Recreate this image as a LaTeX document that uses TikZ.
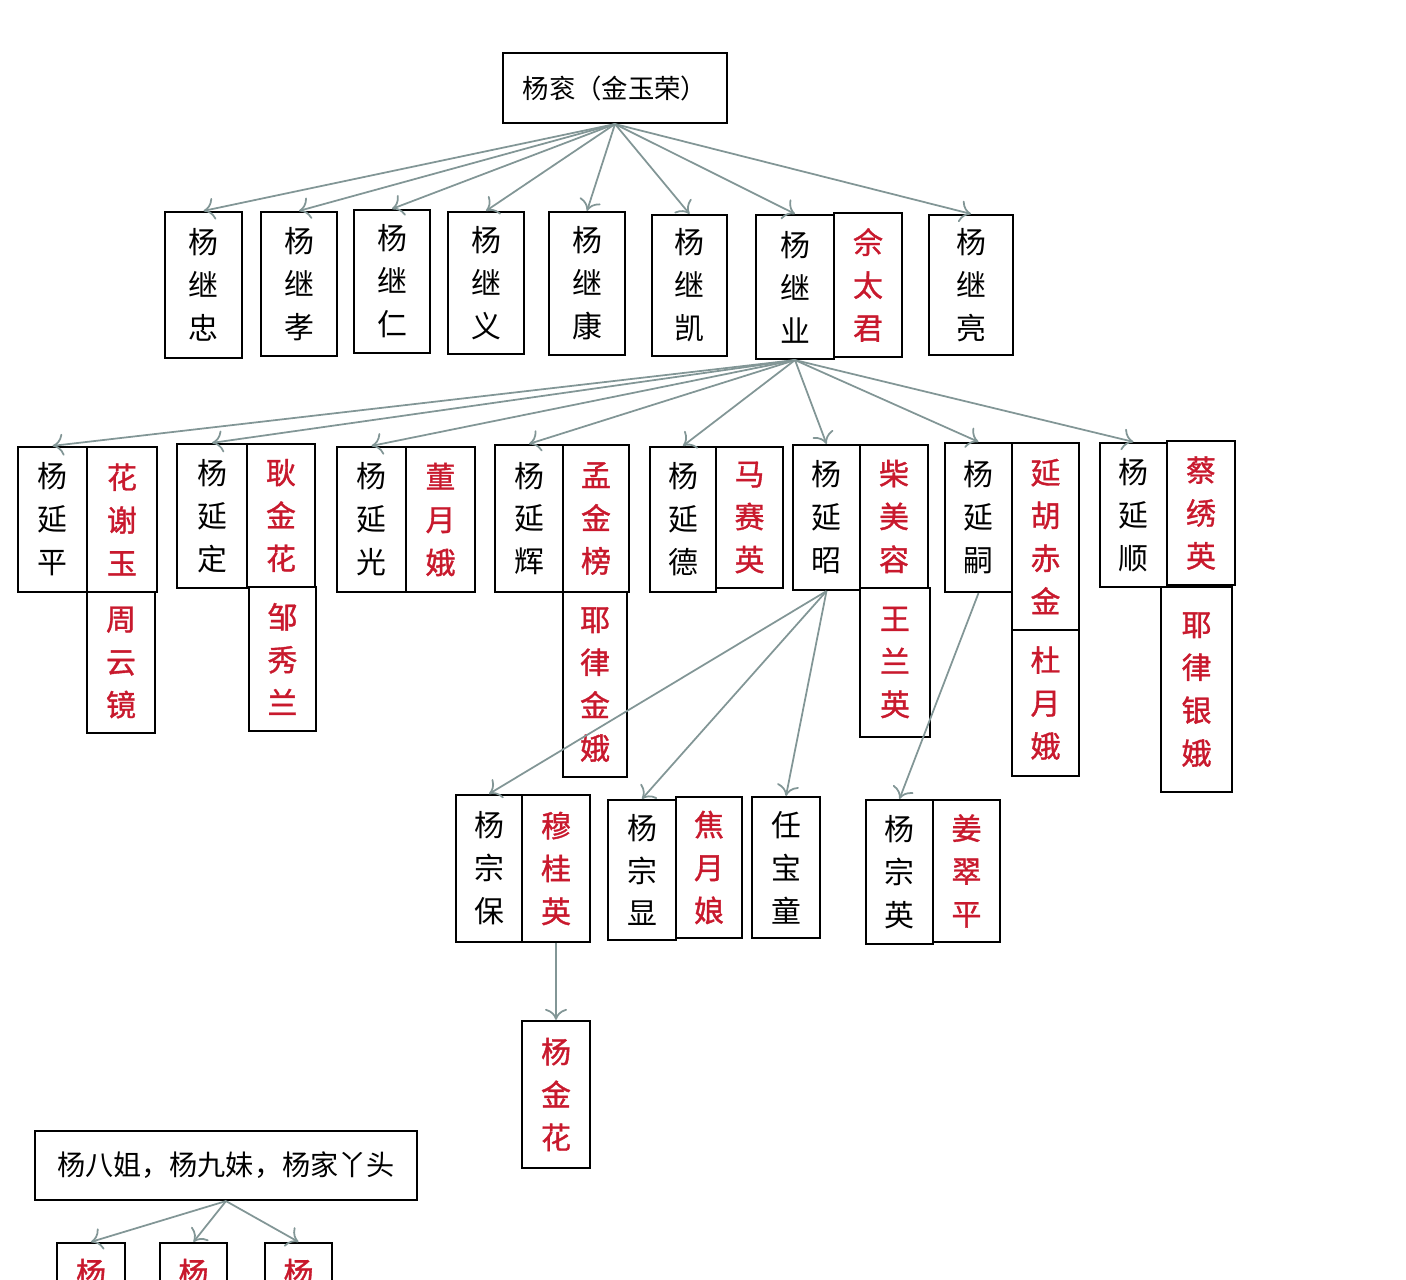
\documentclass[tikz,border=0pt]{standalone}
\usepackage{fontspec}
\usetikzlibrary{arrows.meta}
\newfontfamily\cjk{Noto Sans CJK SC}
\newfontfamily\cjkred[FakeBold=1.2]{Noto Sans CJK SC}
\definecolor{namered}{RGB}{200,25,45}
\definecolor{linkgray}{RGB}{130,150,150}

\begin{document}
\begin{tikzpicture}[x=0.01cm,y=-0.01cm,
  box/.style={draw,line width=0.6pt,inner sep=0pt,align=center,font=\cjk\fontsize{8.5}{12.2}\selectfont},
  col/.style={box,minimum width=0.68cm,minimum height=1.45cm},
  wife/.style={col,text=namered,font=\cjkred\fontsize{8.5}{12.2}\selectfont},
  kin/.style={-{To[length=1.1mm,width=2.2mm]},draw=linkgray,line width=0.5pt}]
\useasboundingbox (0,0) rectangle (1406,1280);
\clip (0,0) rectangle (1406,1280);

\node[box,minimum width=2.24cm,minimum height=0.70cm,font=\cjk\fontsize{7.5}{9}\selectfont] (tg) at (615,88) {杨衮（金玉荣）};

\node[col,minimum width=0.77cm,minimum height=1.46cm] (jz) at (203.5,285) {杨\\继\\忠};
\node[col,minimum width=0.76cm,minimum height=1.44cm] (jx) at (299,284) {杨\\继\\孝};
\node[col,minimum width=0.76cm,minimum height=1.43cm] (jr) at (392,281.5) {杨\\继\\仁};
\node[col,minimum width=0.76cm,minimum height=1.42cm] (jy) at (486,283) {杨\\继\\义};
\node[col,minimum width=0.76cm,minimum height=1.43cm] (jk) at (587,283.5) {杨\\继\\康};
\node[col,minimum width=0.75cm,minimum height=1.41cm] (jkai) at (689.5,285.5) {杨\\继\\凯};
\node[col,minimum width=0.78cm,minimum height=1.44cm] (jye) at (795,287) {杨\\继\\业};
\node[wife,minimum height=1.44cm] (she) at (868,285) {佘\\太\\君};
\node[col,minimum width=0.84cm,minimum height=1.40cm] (jl) at (971,285) {杨\\继\\亮};

\node[col,minimum width=0.69cm] (yp) at (52.5,519.5) {杨\\延\\平};
\node[wife,minimum width=0.70cm] (hxy) at (122,519.5) {花\\谢\\玉};
\node[wife,minimum height=1.41cm] (zyj) at (121,662.5) {周\\云\\镜};
\node[col,minimum width=0.70cm,minimum height=1.44cm] (yd) at (212,516) {杨\\延\\定};
\node[wife,minimum height=1.43cm] (gjh) at (281,515.5) {耿\\金\\花};
\node[wife,minimum width=0.67cm,minimum height=1.44cm] (zxl) at (282.5,659) {邹\\秀\\兰};
\node[col,minimum width=0.69cm] (yg) at (371.5,519.5) {杨\\延\\光};
\node[wife,minimum width=0.69cm] (dye) at (440.5,519.5) {董\\月\\娥};
\node[col,minimum height=1.47cm] (yh) at (529,518.5) {杨\\延\\辉};
\node[wife,minimum width=0.66cm,minimum height=1.47cm] (mjb) at (596,518.5) {孟\\金\\榜};
\node[wife,minimum width=0.64cm,minimum height=1.85cm] (yljie) at (595,684.5) {耶\\律\\金\\娥};
\node[col,minimum width=0.66cm] (yde) at (683,519.5) {杨\\延\\德};
\node[wife,minimum width=0.67cm,minimum height=1.41cm] (msy) at (749.5,517.5) {马\\赛\\英};
\node[col,minimum width=0.67cm] (yz) at (826.5,517.5) {杨\\延\\昭};
\node[wife,minimum height=1.43cm] (cmr) at (894,516.5) {柴\\美\\容};
\node[wife,minimum width=0.70cm,minimum height=1.49cm] (wly) at (895,662.5) {王\\兰\\英};
\node[col,minimum width=0.67cm,minimum height=1.49cm] (ys) at (978.5,517.5) {杨\\延\\嗣};
\node[wife,minimum width=0.67cm,minimum height=1.87cm] (yhcj) at (1045.5,536.5) {延\\胡\\赤\\金};
\node[wife,minimum width=0.67cm,minimum height=1.46cm] (dyue) at (1045.5,703) {杜\\月\\娥};
\node[col,minimum width=0.67cm,minimum height=1.44cm] (ysh) at (1133.5,515) {杨\\延\\顺};
\node[wife,minimum height=1.44cm] (cxy) at (1201,513) {蔡\\绣\\英};
\node[wife,minimum width=0.71cm,minimum height=2.05cm] (ylye) at (1196.5,689.5) {耶\\律\\银\\娥};

\node[col,minimum width=0.66cm,minimum height=1.47cm] (zb) at (489,868.5) {杨\\宗\\保};
\node[wife,minimum height=1.47cm] (mgy) at (556,868.5) {穆\\桂\\英};
\node[col,minimum height=1.40cm] (zx) at (642,870) {杨\\宗\\显};
\node[wife,minimum width=0.66cm,minimum height=1.41cm] (jyn) at (709,867.5) {焦\\月\\娘};
\node[col,minimum height=1.41cm] (rbt) at (786,867.5) {任\\宝\\童};
\node[col,minimum width=0.67cm,minimum height=1.44cm] (zy) at (899.5,872) {杨\\宗\\英};
\node[wife,minimum width=0.67cm,minimum height=1.42cm] (jcp) at (966.5,871) {姜\\翠\\平};
\node[wife,minimum height=1.47cm] (jh) at (556,1094.5) {杨\\金\\花};

\node[box,minimum width=3.82cm,minimum height=0.69cm,font=\cjk\fontsize{8}{10}\selectfont] (sis) at (226,1165.5) {杨八姐，杨九妹，杨家丫头};
\node[wife] (ga) at (91,1315.5) {杨\\\phantom{杨}\\\phantom{杨}};
\node[wife,minimum width=0.67cm] (gb) at (193.5,1315.5) {杨\\\phantom{杨}\\\phantom{杨}};
\node[wife,minimum width=0.67cm] (gc) at (298.5,1315.5) {杨\\\phantom{杨}\\\phantom{杨}};

\foreach \n in {jz,jx,jr,jy,jk,jkai,jye,jl}
  \draw[kin] (tg.south) -- (\n.north);
\foreach \n in {yp,yd,yg,yh,yde,yz,ys,ysh}
  \draw[kin] (jye.south) -- (\n.north);
\foreach \n in {zb,zx,rbt}
  \draw[kin] (yz.south) -- (\n.north);
\draw[kin] (ys.south) -- (zy.north);
\draw[kin] (mgy.south) -- (jh.north);
\foreach \n in {ga,gb,gc}
  \draw[kin] (sis.south) -- (\n.north);

\end{tikzpicture}
\end{document}
